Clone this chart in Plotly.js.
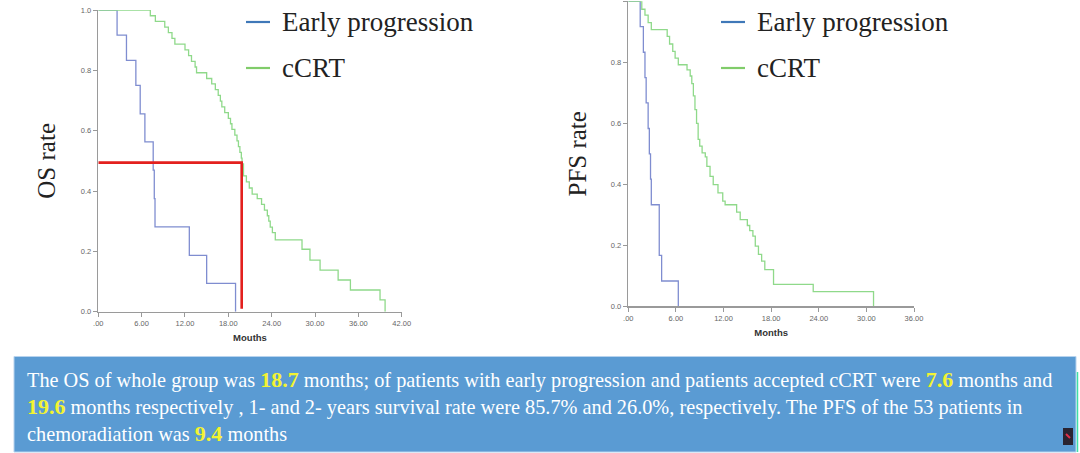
<!DOCTYPE html>
<html><head><meta charset="utf-8">
<script src="https://cdn.plot.ly/plotly-3.0.1.min.js"></script>
<style>html,body{margin:0;padding:0;background:#fff;overflow:hidden}#chart{width:1080px;height:453px}</style>
</head><body><div id="chart"></div>
<script>
// ---------- data ----------
const seriesNames = ["Early progression", "cCRT"];

// OS (overall survival), Kaplan-Meier step points
const osMonthsEarly = [0, 2.6, 3.9, 5.2, 5.8, 6.45, 7.6, 7.75, 7.85, 12.6, 15.0, 19.0];
const osRateEarly   = [1.0, 0.917, 0.833, 0.75, 0.656, 0.563, 0.469, 0.375, 0.281, 0.187, 0.094, 0.0];

const osMonthsCCRT = [0, 7.2, 7.9, 9.2, 9.7, 10.2, 10.6, 12.0, 12.5, 12.9, 13.4, 13.6, 15.0, 15.7, 16.2,
  16.6, 16.9, 17.1, 17.5, 18.0, 18.3, 18.5, 18.9, 19.2, 19.4, 19.6, 19.8, 19.9, 20.1, 20.5,
  20.9, 21.3, 22.0, 22.6, 23.0, 23.4, 23.6, 23.8, 24.1, 24.5, 28.2, 29.3, 30.7, 33.2, 34.9, 39.0, 39.7];
const osRateCCRT = [1.0, 0.981, 0.962, 0.943, 0.925, 0.906, 0.887, 0.868, 0.849, 0.830, 0.811, 0.792, 0.773, 0.755, 0.736,
  0.717, 0.698, 0.679, 0.660, 0.641, 0.623, 0.604, 0.585, 0.566, 0.547, 0.528, 0.509, 0.490, 0.45, 0.43,
  0.41, 0.39, 0.375, 0.356, 0.337, 0.318, 0.30, 0.28, 0.262, 0.238, 0.207, 0.171, 0.138, 0.105, 0.072, 0.039, 0.0];

// median marker drawn on the OS chart
const osMedianMonths = 19.85;
const osMedianRate = 0.494;
const osMedianFloor = 0.01;

// PFS (progression-free survival)
const pfsMonthsEarly = [0, 1.5, 1.9, 2.1, 2.25, 2.5, 2.65, 2.8, 2.9, 3.9, 4.2, 6.3];
const pfsRateEarly   = [1.0, 0.917, 0.833, 0.75, 0.667, 0.583, 0.5, 0.417, 0.333, 0.167, 0.083, 0.0];

const pfsMonthsCCRT = [0, 1.7, 2.1, 2.5, 2.9, 4.9, 5.2, 5.6, 5.9, 6.3, 7.4, 7.8, 8.0, 8.2, 8.4,
  8.6, 8.8, 9.0, 9.3, 9.7, 9.9, 10.3, 10.7, 11.3, 11.9, 12.2, 13.65, 14.1, 15.0, 15.3,
  15.7, 16.0, 16.4, 16.8, 17.2, 18.3, 23.3, 30.9];
const pfsRateCCRT = [1.0, 0.974, 0.955, 0.93, 0.907, 0.885, 0.86, 0.836, 0.814, 0.792, 0.775, 0.755, 0.73, 0.69, 0.645,
  0.60, 0.547, 0.525, 0.503, 0.49, 0.459, 0.426, 0.399, 0.372, 0.345, 0.333, 0.309, 0.284, 0.265, 0.248,
  0.23, 0.197, 0.17, 0.148, 0.12, 0.072, 0.048, 0.0];

// tick labels
const osXTickVals  = [0, 6, 12, 18, 24, 30, 36, 42];
const osXTickText  = [".00", "6.00", "12.00", "18.00", "24.00", "30.00", "36.00", "42.00"];
const pfsXTickVals = [0, 6, 12, 18, 24, 30, 36];
const pfsXTickText = [".00", "6.00", "12.00", "18.00", "24.00", "30.00", "36.00"];
const yTickVals = [0, 0.2, 0.4, 0.6, 0.8, 1.0];
const yTickText = ["0.0", "0.2", "0.4", "0.6", "0.8", "1.0"];

// ---------- styles ----------
const W = 1080, H = 453;
const px = v => v / W;
const py = v => 1 - v / H;
const curveBlue = "#7f8dd0", curveGreen = "#8fd98a";
const swatchBlue = "#3f78b8", swatchGreen = "#80cc6a";
const serif = "Liberation Serif, Times New Roman, serif";
const sans = "Liberation Sans, Arial, sans-serif";

function stepTrace(x, y, color, xa, ya, name) {
  return {type: "scatter", mode: "lines", x: x, y: y, xaxis: xa, yaxis: ya, name: name,
    line: {shape: "hv", color: color, width: 1.3}, cliponaxis: false, hoverinfo: "skip", showlegend: false};
}

const traces = [
  stepTrace(osMonthsEarly, osRateEarly, curveBlue, "x", "y", seriesNames[0]),
  stepTrace(osMonthsCCRT, osRateCCRT, curveGreen, "x", "y", seriesNames[1]),
  {type: "scatter", mode: "lines", xaxis: "x", yaxis: "y",
    x: [0, osMedianMonths, osMedianMonths], y: [osMedianRate, osMedianRate, osMedianFloor],
    line: {color: "#e3201e", width: 2.6}, cliponaxis: false, hoverinfo: "skip", showlegend: false},
  stepTrace(pfsMonthsEarly, pfsRateEarly, curveBlue, "x2", "y2", seriesNames[0]),
  stepTrace(pfsMonthsCCRT, pfsRateCCRT, curveGreen, "x2", "y2", seriesNames[1])
];

function xAx(domain, range, vals, text, title) {
  return {domain: domain, range: range, tickmode: "array", tickvals: vals, ticktext: text,
    ticks: "outside", ticklen: 4, tickwidth: 1, tickcolor: "#999", showline: true, linecolor: "#9a9a9a",
    linewidth: 1.5, showgrid: false, zeroline: false, fixedrange: true,
    tickfont: {family: sans, size: 7.5, color: "#666"},
    title: {text: "<b>" + title + "</b>", font: {family: sans, size: 9.5, color: "#333"}, standoff: 7}};
}
function yAx(domain, anchor, title, standoff) {
  return {domain: domain, range: [0, 1], anchor: anchor, tickmode: "array", tickvals: yTickVals, ticktext: yTickText,
    ticks: "outside", ticklen: 4, tickwidth: 1, tickcolor: "#999", showline: true, linecolor: "#9a9a9a",
    linewidth: 1.5, showgrid: false, zeroline: false, fixedrange: true,
    tickfont: {family: sans, size: 7.5, color: "#666"},
    title: {text: title, font: {family: serif, size: 25, color: "#222"}, standoff: standoff}};
}

const hl = s => '<span style="color:#f3f332;font-size:22px"><b>' + s + '</b></span>';
const textLines = [
  "The OS of whole group was " + hl("18.7") + " months; of patients with early progression and patients accepted cCRT were " + hl("7.6") + " months and",
  hl("19.6") + " months respectively , 1- and 2- years survival rate were 85.7% and 26.0%, respectively. The PFS of the 53 patients in",
  "chemoradiation was " + hl("9.4") + " months"
];
const textY = [379, 406, 433];

const annotations = [];
textLines.forEach((t, i) => annotations.push({xref: "paper", yref: "paper", x: px(25), y: py(textY[i]),
  xanchor: "left", yanchor: "middle", text: t, showarrow: false, font: {family: serif, size: 20.3, color: "#ffffff"}}));

// legends (one per chart)
const legendX = [280, 755];
const legendY = [22, 68];
const shapes = [
  {type: "rect", xref: "paper", yref: "paper", x0: px(14), x1: px(1076), y0: py(452), y1: py(356.5),
    fillcolor: "#5a9bd3", line: {color: "#b7d3ee", width: 1}, layer: "below"},
  {type: "rect", xref: "paper", yref: "paper", x0: px(1063), x1: px(1073), y0: py(445), y1: py(428),
    fillcolor: "#2a2430", line: {width: 0}},
  {type: "line", xref: "paper", yref: "paper", x0: px(1066), x1: px(1070), y0: py(434), y1: py(438),
    line: {color: "#e0304a", width: 2}},
  {type: "line", xref: "paper", yref: "paper", x0: px(1077.5), x1: px(1077.5), y0: py(452), y1: py(372),
    line: {color: "#3fe0a8", width: 1.5}}
];
legendX.forEach(lx => {
  [swatchBlue, swatchGreen].forEach((c, i) => {
    shapes.push({type: "line", xref: "paper", yref: "paper", x0: px(lx - 34), x1: px(lx - 10),
      y0: py(legendY[i]), y1: py(legendY[i]), line: {color: c, width: 2.2}});
    annotations.push({xref: "paper", yref: "paper", x: px(lx), y: py(legendY[i]), xanchor: "left", yanchor: "middle",
      text: seriesNames[i], showarrow: false, font: {family: serif, size: 27, color: "#222"}});
  });
});

const layout = {
  width: W, height: H, margin: {l: 0, r: 0, t: 0, b: 0}, paper_bgcolor: "#fff", plot_bgcolor: "rgba(0,0,0,0)",
  showlegend: false,
  xaxis: xAx([px(98.3), px(401.7)], [0, 42], osXTickVals, osXTickText, "Mouths"),
  yaxis: yAx([py(311.7), py(10)], "x", "OS rate", 18),
  xaxis2: Object.assign(xAx([px(628.3), px(914)], [0, 36], pfsXTickVals, pfsXTickText, "Months"), {anchor: "y2"}),
  yaxis2: yAx([py(306.3), py(1.3)], "x2", "PFS rate", 17),
  shapes: shapes, annotations: annotations
};
layout.xaxis.anchor = "y";

Plotly.newPlot("chart", traces, layout, {displayModeBar: false, staticPlot: true});
</script></body></html>
